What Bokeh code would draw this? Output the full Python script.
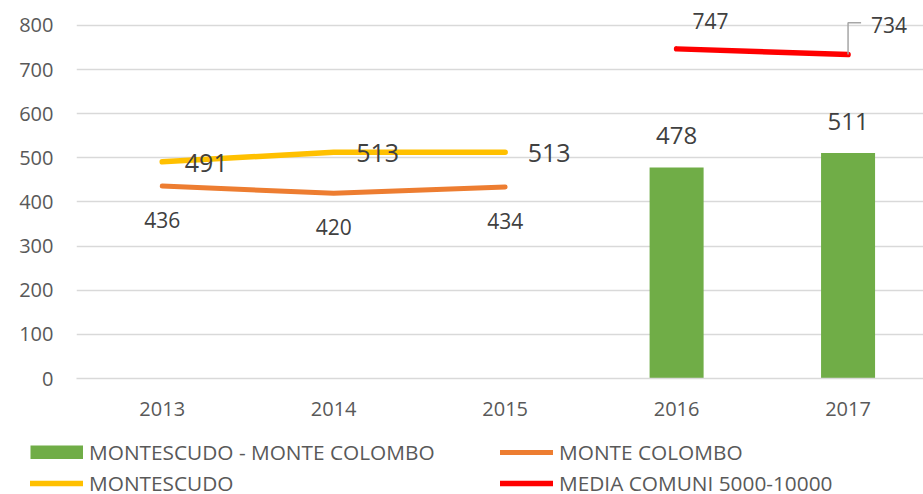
from bokeh.plotting import figure
from bokeh.layouts import column, row
from bokeh.models import (ColumnDataSource, Range1d, FixedTicker, Legend, LegendItem)
from bokeh.core.properties import value
from bokeh.embed import file_html
from bokeh.resources import INLINE

# ---- data ----
years = ["2013", "2014", "2015", "2016", "2017"]
bar_years = ["2016", "2017"]
bar_values = [478, 511]                      # MONTESCUDO - MONTE COLOMBO
colombo_years = ["2013", "2014", "2015"]
colombo_values = [436, 420, 434]             # MONTE COLOMBO
montescudo_years = ["2013", "2014", "2015"]
montescudo_values = [491, 513, 513]          # MONTESCUDO
media_years = ["2016", "2017"]
media_values = [747, 734]                    # MEDIA COMUNI 5000-10000
y_ticks = [0, 100, 200, 300, 400, 500, 600, 700, 800]
series_names = ["MONTESCUDO - MONTE COLOMBO", "MONTE COLOMBO",
                "MONTESCUDO", "MEDIA COMUNI 5000-10000"]

idx = {y: i for i, y in enumerate(years)}
FONT = "Open Sans"
GREY = "#595959"
DARK = "#404040"
C_BAR, C_COL, C_MON, C_MED = "#70AD47", "#ED7D31", "#FFC000", "#FF0000"

p = figure(width=923, height=430, output_backend="svg", toolbar_location=None,
           x_range=Range1d(-0.5, 4.44), y_range=Range1d(0, 838.5),
           min_border_left=76, min_border_right=0, min_border_top=8,
           min_border_bottom=52)
p.outline_line_color = None

bar_src = ColumnDataSource(dict(x=[idx[y] for y in bar_years], top=bar_values,
                                lab=[str(v) for v in bar_values]))
col_src = ColumnDataSource(dict(x=[idx[y] for y in colombo_years], y=colombo_values,
                                lab=[str(v) for v in colombo_values]))
mon_src = ColumnDataSource(dict(x=[idx[y] for y in montescudo_years], y=montescudo_values,
                                lab=[str(v) for v in montescudo_values]))
med_src = ColumnDataSource(dict(x=[idx[y] for y in media_years], y=media_values,
                                lab=[str(v) for v in media_values]))

p.vbar(x="x", top="top", bottom=0, width=0.315, source=bar_src,
       fill_color=C_BAR, line_color=None)
p.line(x="x", y="y", source=col_src, line_color=C_COL, line_width=5,
       line_cap="round", line_join="round")
p.line(x="x", y="y", source=mon_src, line_color=C_MON, line_width=5.5,
       line_cap="round", line_join="round")
p.line(x="x", y="y", source=med_src, line_color=C_MED, line_width=5.5,
       line_cap="round", line_join="round")

# leader line for last media label
lx = med_src.data["x"][1]
ly = media_values[1]
p.line(x=[lx, lx, lx + 0.076], y=[ly, ly + 72, ly + 72], line_color="#A6A6A6",
       line_width=1.5)

# data labels
p.text(x="x", y="top", text="lab", source=bar_src, text_font=value(FONT),
       text_font_size="24px", text_color=DARK, text_align="center",
       text_baseline="middle", y_offset=-32)
p.text(x="x", y="y", text="lab", source=col_src, text_font=value(FONT),
       text_font_size="21px", text_color=DARK, text_align="center",
       text_baseline="middle", y_offset=34)
p.text(x="x", y="y", text="lab", source=mon_src, text_font=value(FONT),
       text_font_size="25px", text_color=DARK, text_align="center",
       text_baseline="middle", x_offset=44, y_offset=1)
p.text(x=[med_src.data["x"][0]], y=[media_values[0]], text=[str(media_values[0])],
       text_font=value(FONT), text_font_size="21px", text_color=DARK,
       text_align="center", text_baseline="middle", x_offset=34, y_offset=-28)
p.text(x=[med_src.data["x"][1]], y=[media_values[1]], text=[str(media_values[1])],
       text_font=value(FONT), text_font_size="21px", text_color=DARK,
       text_align="left", text_baseline="middle", x_offset=23, y_offset=-30)

# axes
p.xaxis.ticker = FixedTicker(ticks=list(range(len(years))))
p.xaxis.major_label_overrides = {i: y for i, y in enumerate(years)}
p.yaxis.ticker = FixedTicker(ticks=y_ticks)
for ax in (p.xaxis, p.yaxis):
    ax.major_tick_line_color = None
    ax.minor_tick_line_color = None
    ax.major_tick_out = 0
    ax.major_tick_in = 0
    ax.major_label_text_font = FONT
    ax.major_label_text_font_size = "20px"
    ax.major_label_text_color = GREY
p.yaxis.axis_line_color = None
p.yaxis.major_label_standoff = 23
p.xaxis.axis_line_color = "#D9D9D9"
p.xaxis.axis_line_width = 1.5
p.xaxis.major_label_standoff = 23
p.xgrid.grid_line_color = None
p.ygrid.grid_line_color = "#D9D9D9"
p.ygrid.grid_line_width = 1.3

# ---- legend strip (own figure; key glyphs sit outside its visible range) ----
lg = figure(width=923, height=64, output_backend="svg", toolbar_location=None,
            x_range=Range1d(0, 1), y_range=Range1d(0, 1),
            x_axis_type=None, y_axis_type=None,
            min_border_left=0, min_border_right=0, min_border_top=0,
            min_border_bottom=0)
lg.outline_line_color = None
lg.grid.visible = False
key = ColumnDataSource(dict(x=[5], y=[5]))
# the bar key is a thick butt-capped stroke so it fills the whole key box
k_bar = lg.line(x="x", y="y", source=key, line_color=C_BAR, line_width=14, line_cap="butt")
k_col = lg.line(x="x", y="y", source=key, line_color=C_COL, line_width=5, line_cap="round")
k_mon = lg.line(x="x", y="y", source=key, line_color=C_MON, line_width=5.5, line_cap="round")
k_med = lg.line(x="x", y="y", source=key, line_color=C_MED, line_width=5.5, line_cap="round")

def make_legend(items, loc):
    leg = Legend(items=items, location=loc)
    leg.background_fill_alpha = 0
    leg.border_line_color = None
    leg.padding = 0
    leg.margin = 0
    leg.spacing = 3
    leg.glyph_width = 53
    leg.glyph_height = 14
    leg.label_height = 26
    leg.label_standoff = 6
    leg.label_text_font = FONT
    leg.label_text_font_size = "20.8px"
    leg.label_text_color = GREY
    return leg

lg.add_layout(make_legend([LegendItem(label=series_names[0], renderers=[k_bar]),
                           LegendItem(label=series_names[2], renderers=[k_mon])], (30, -3)))
lg.add_layout(make_legend([LegendItem(label=series_names[1], renderers=[k_col]),
                           LegendItem(label=series_names[3], renderers=[k_med])], (500, -3)))

layout = column(p, row(lg), spacing=0)
open("out.html", "w").write(file_html(layout, INLINE))
